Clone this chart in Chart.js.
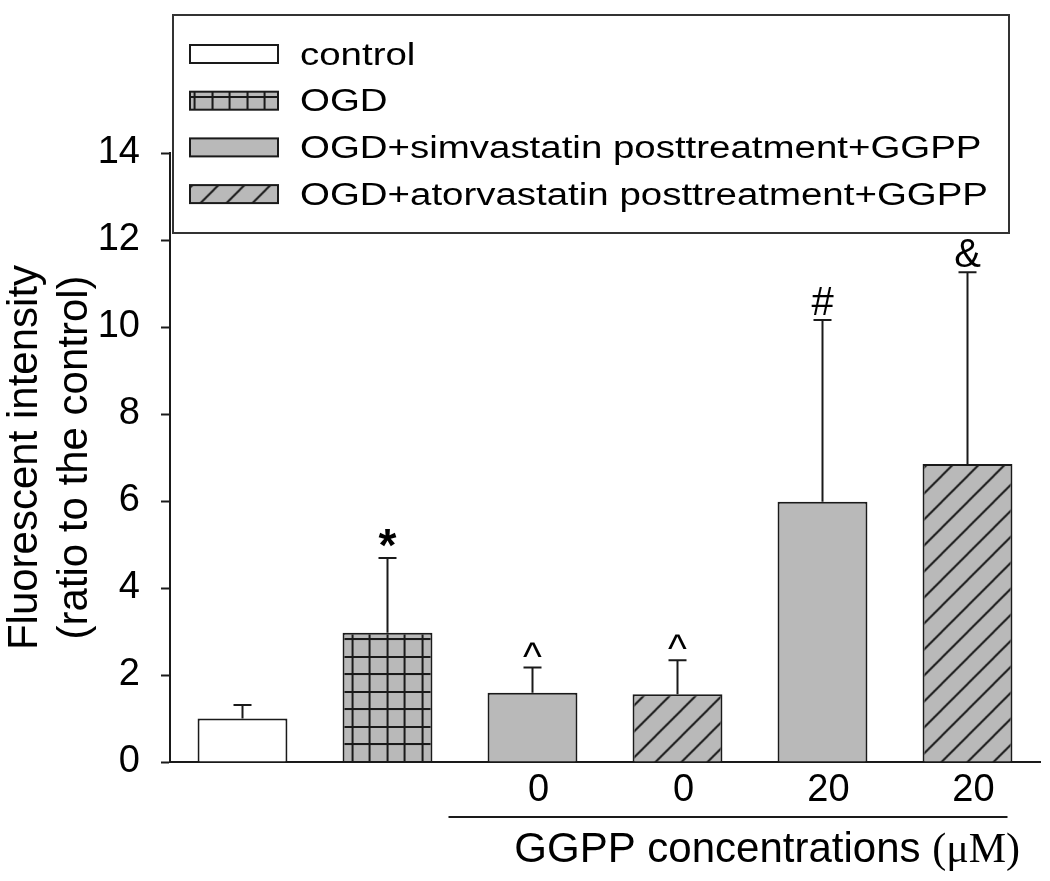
<!DOCTYPE html>
<html>
<head>
<meta charset="utf-8">
<script src="https://cdn.jsdelivr.net/npm/chart.js@4"></script>
<style>
  html, body { margin: 0; padding: 0; background: #fff; }
  canvas { display: block; }
</style>
</head>
<body>
<canvas id="myChart" width="1050" height="881"></canvas>
<script>
// data
const groups = ['control', 'OGD', 'OGD+simvastatin posttreatment+GGPP', 'OGD+atorvastatin posttreatment+GGPP'];
const barGroup = [0, 1, 2, 3, 2, 3];
const ggppLabels = ['', '', '0', '0', '20', '20'];
const means = [1.0, 2.97, 1.59, 1.56, 5.98, 6.85];
const sds = [0.31, 1.72, 0.58, 0.78, 4.18, 4.41];
const marks = ['', '*', '^', '^', '#', '&'];
const yTicks = [0, 2, 4, 6, 8, 10, 12, 14];
const yTitle = ['Fluorescent intensity', '(ratio to the control)'];
const xTitle = 'GGPP concentrations ';
const xUnit = '(\u03bcM)';

const gray = '#b9b9b9';
const ink = '#1a1a1a';
const sans = '"Liberation Sans", Arial, sans-serif';
const serif = '"Liberation Serif", "Times New Roman", serif';

Chart.defaults.font.family = sans;

function makeGrid() {
  const c = document.createElement('canvas');
  c.width = 35; c.height = 35;
  const g = c.getContext('2d');
  g.fillStyle = gray;
  g.fillRect(0, 0, 35, 35);
  g.fillStyle = ink;
  g.fillRect(0, 0, 2, 35);
  g.fillRect(17, 0, 2, 35);
  g.fillRect(0, 0, 35, 2);
  g.fillRect(0, 17, 35, 2);
  return g.createPattern(c, 'repeat');
}

function makeHatch() {
  const s = 26;
  const c = document.createElement('canvas');
  c.width = s; c.height = s;
  const g = c.getContext('2d');
  g.fillStyle = gray;
  g.fillRect(0, 0, s, s);
  g.strokeStyle = ink;
  g.lineWidth = 2;
  g.beginPath();
  g.moveTo(0, s); g.lineTo(s, 0);
  g.moveTo(-3, 3); g.lineTo(3, -3);
  g.moveTo(s - 3, s + 3); g.lineTo(s + 3, s - 3);
  g.stroke();
  return g.createPattern(c, 'repeat');
}

const gridPat = makeGrid();
const hatchPat = makeHatch();
const fills = ['#ffffff', gridPat, gray, hatchPat];

// line the grid pattern up with the OGD bar
const alignPatterns = {
  id: 'alignPatterns',
  afterLayout(chart) {
    const xs = chart.scales.x, ys = chart.scales.y;
    gridPat.setTransform(new DOMMatrix().translate(xs.getPixelForValue(1) - 1, ys.getPixelForValue(0) - 1));
    hatchPat.setTransform(new DOMMatrix().translate(xs.getPixelForValue(5), ys.getPixelForValue(0)));
  }
};

const errorBars = {
  id: 'errorBars',
  afterDatasetsDraw(chart) {
    const ctx = chart.ctx;
    const ys = chart.scales.y;
    const meta = chart.getDatasetMeta(0);
    ctx.save();
    ctx.strokeStyle = ink;
    ctx.lineWidth = 2;
    meta.data.forEach((bar, i) => {
      const top = ys.getPixelForValue(means[i] + sds[i]);
      ctx.beginPath();
      ctx.moveTo(bar.x, bar.y);
      ctx.lineTo(bar.x, top);
      ctx.moveTo(bar.x - 9, top);
      ctx.lineTo(bar.x + 9, top);
      ctx.stroke();
      if (marks[i]) {
        ctx.font = marks[i] === '*' ? 'bold 46px ' + sans : '40px ' + sans;
        ctx.textAlign = 'center';
        ctx.textBaseline = 'alphabetic';
        ctx.fillStyle = '#000';
        const m = ctx.measureText(marks[i]);
        // marks that float above the baseline sit a little higher in the figure
        const gap = m.actualBoundingBoxDescent < 0 ? 11 : 5;
        ctx.fillText(marks[i], bar.x, top - gap - m.actualBoundingBoxDescent);
      }
    });
    ctx.restore();
  }
};

const extras = {
  id: 'extras',
  afterDraw(chart) {
    const ctx = chart.ctx;
    const xs = chart.scales.x;
    const area = chart.chartArea;
    ctx.save();

    // legend box
    ctx.fillStyle = '#fff';
    ctx.fillRect(173, 15, 836, 218);
    ctx.strokeStyle = '#333';
    ctx.lineWidth = 2;
    ctx.strokeRect(173, 15, 836, 218);
    groups.forEach((name, i) => {
      const top = 45 + i * 46.7;
      ctx.fillStyle = fills[i];
      ctx.fillRect(190, top, 88, 18);
      ctx.strokeStyle = ink;
      ctx.lineWidth = 2;
      ctx.strokeRect(190, top, 88, 18);
      ctx.save();
      ctx.translate(300, top + 19.5);
      ctx.scale(1.24, 1);
      ctx.font = '31px ' + sans;
      ctx.fillStyle = '#000';
      ctx.textAlign = 'left';
      ctx.textBaseline = 'alphabetic';
      ctx.fillText(name, 0, 0);
      ctx.restore();
    });

    // GGPP bracket line + axis title
    const x0 = xs.getPixelForValue(2) - 84;
    const x1 = xs.getPixelForValue(5) + 40;
    ctx.strokeStyle = ink;
    ctx.lineWidth = 2;
    ctx.beginPath();
    ctx.moveTo(x0, 817);
    ctx.lineTo(x1, 817);
    ctx.stroke();

    ctx.font = '42px ' + sans;
    const w1 = ctx.measureText(xTitle).width;
    ctx.font = '42px ' + serif;
    const w2 = ctx.measureText(xUnit).width;
    const start = area.right - 20 - w1 - w2;
    ctx.fillStyle = '#000';
    ctx.textAlign = 'left';
    ctx.textBaseline = 'alphabetic';
    ctx.font = '42px ' + sans;
    ctx.fillText(xTitle, start, 862);
    ctx.font = '42px ' + serif;
    ctx.fillText(xUnit, start + w1, 862);
    ctx.restore();
  }
};

const ctx = document.getElementById('myChart').getContext('2d');
const chart = new Chart(ctx, {
  type: 'bar',
  data: {
    labels: ggppLabels,
    datasets: [{
      data: means,
      backgroundColor: barGroup.map(g => fills[g]),
      borderColor: ink,
      borderWidth: 2,
      barPercentage: 0.62,
      categoryPercentage: 1
    }]
  },
  options: {
    responsive: false,
    animation: false,
    devicePixelRatio: 1,
    layout: { padding: { top: 153, right: 10, left: 0, bottom: 0 } },
    plugins: {
      legend: { display: false },
      tooltip: { enabled: false }
    },
    scales: {
      x: {
        afterFit(s) { s.height = 119; },
        ticks: { color: '#000', font: { size: 38 }, padding: 6, labelOffset: 6, autoSkip: false, maxRotation: 0 },
        grid: { display: true, drawOnChartArea: false, drawTicks: false },
        border: { color: ink, width: 2 }
      },
      y: {
        min: 0,
        max: 14,
        afterFit(s) { s.width = 170; },
        afterBuildTicks(s) { s.ticks = yTicks.map(v => ({ value: v })); },
        ticks: { color: '#000', font: { size: 38 }, padding: 21 },
        grid: { drawOnChartArea: false, tickLength: 9, tickWidth: 2, tickColor: ink },
        border: { color: ink, width: 2 },
        title: {
          display: true,
          text: yTitle,
          color: '#000',
          font: { size: 42, lineHeight: 1.2 },
          padding: { top: 0, bottom: 0 }
        }
      }
    }
  },
  plugins: [alignPatterns, errorBars, extras]
});
</script>
</body>
</html>
